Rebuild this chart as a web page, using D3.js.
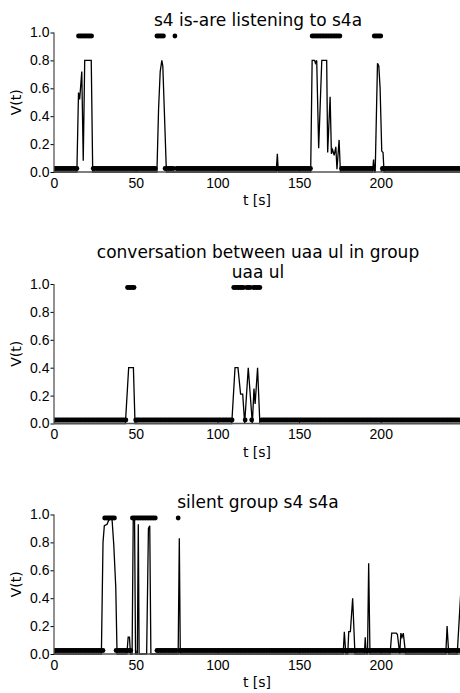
<!DOCTYPE html>
<meta charset="utf-8">
<style>
    body {
        margin: 0;
        background: #fff;
        font-family: "DejaVu Sans", sans-serif;
    }

    .tick text {
        font-size: 14px;
        fill: #000;
    }

    .title {
        font-size: 17px;
        text-anchor: middle;
    }

    .label {
        font-size: 14px;
        text-anchor: middle;
    }
</style>

<body>
    <script src="https://d3js.org/d3.v7.min.js"></script>
    <script>

        // panel titles (one entry per line)
        var titles = [
            ["s4 is-are listening to s4a"],
            ["conversation between uaa ul in group", "uaa ul"],
            ["silent group s4 s4a"]
        ];

        var xTicks = [0, 50, 100, 150, 200];
        var yTicks = [0.0, 0.2, 0.4, 0.6, 0.8, 1.0];
        var tMax = 248.5;

        // V(t) curves, [t, v] points
        var listenLine = [[0, 0], [14, 0], [15, 0.57], [15.7, 0.52], [17, 0.72], [17.9, 0.08], [18.8, 0.8], [22.8, 0.8], [23.7, 0],
            [63, 0], [64, 0.45], [65, 0.72], [66, 0.8], [66.6, 0.76], [67.5, 0.45], [68.8, 0],
            [136, 0], [136.7, 0.13], [137.3, 0],
            [157.1, 0], [158, 0.8], [159.5, 0.8], [160, 0.78], [160.8, 0.8], [162, 0.17], [163.9, 0.8], [166.9, 0.8], [167.5, 0.14],
            [169, 0.54], [169.8, 0.13], [170.5, 0.16], [171.5, 0.12], [172.5, 0.18], [173.2, 0.02], [174.5, 0.23], [175.3, 0],
            [195, 0], [195.6, 0.09], [196.2, 0], [196.6, 0], [198, 0.78], [198.8, 0.76], [199.6, 0.6], [200.6, 0.15], [201.4, 0.14], [202, 0],
            [tMax, 0]];

        var talkLine = [[0, 0], [43.7, 0], [45.7, 0.4], [48.6, 0.4], [49.6, 0],
            [108.8, 0], [110.8, 0.4], [112.6, 0.4], [114.2, 0.21], [115.5, 0.21], [116.7, 0], [118.9, 0.4], [121.4, 0],
            [122.4, 0.25], [123.1, 0.14], [124.6, 0.4], [126, 0],
            [tMax, 0]];

        var silentLine = [[0, 0], [29, 0], [30, 0.8], [30.8, 0.92], [32.5, 0.93], [33.5, 0.96], [35.5, 0.97], [36.6, 0.78], [37.8, 0.48], [38.6, 0],
            [44.6, 0], [45.4, 0.12], [46.2, 0.12], [46.8, 0],
            [47.8, 0], [48.5, 0.97], [49.3, 0.97], [49.9, 0], [51, 0], [51.6, 0.93], [52.1, 0],
            [56.7, 0], [57.8, 0.9], [58.6, 0.92], [59.3, 0],
            [76, 0], [76.7, 0.83], [77.3, 0],
            [177, 0], [177.7, 0.16], [178.6, 0], [179.8, 0], [180.4, 0.16], [181.4, 0.16], [182.8, 0.4], [184.2, 0],
            [190, 0], [190.5, 0.12], [191.1, 0], [191.9, 0], [192.6, 0.65], [193.4, 0],
            [205.7, 0], [206.7, 0.15], [209.5, 0.15], [210.2, 0.14], [211.6, 0], [212.3, 0.15], [213, 0.12], [213.8, 0.15], [215.2, 0],
            [239.8, 0], [240.6, 0.2], [241.6, 0],
            [246.8, 0], [249.5, 0.55]];

        // seconds where the binary marker is "on" (drawn high), every other second drawn low
        var listenOn = [[15, 23], [63, 67], [74, 74], [158, 175], [196, 200]];
        var talkOn = [[45, 49], [110, 116], [118, 120], [122, 126]];
        var silentOn = [[31, 37], [48, 62], [76, 76]];
        var markHigh = 0.975, markLow = 0.025;

        var lines = [listenLine, talkLine, silentLine];
        var onRuns = [listenOn, talkOn, silentOn];

        // plot box of each panel (pixel)
        var panelTop = [32.5, 284, 514.5],
            panelH = 139.5,
            left = 54, right = 460;

        var svg = d3.select("body").append("svg")
            .attr("width", 460)
            .attr("height", 693);

        var x = d3.scaleLinear().domain([0, tMax]).range([left, right]);
        var seconds = d3.range(0, Math.floor(tMax) + 1);

        svg.append("defs").append("clipPath")
            .attr("id", "clip")
            .append("rect")
            .attr("x", left).attr("y", 0)
            .attr("width", right - left).attr("height", 693);

        lines.forEach(function (data, p) {
            var y = d3.scaleLinear().domain([0, 1]).range([panelTop[p] + panelH, panelTop[p]]);
            var g = svg.append("g");

            var marks = seconds.map(function (t) {
                var on = onRuns[p].some(function (r) { return t >= r[0] && t <= r[1]; });
                return [t, on ? markHigh : markLow];
            });

            var plot = g.append("g").attr("clip-path", "url(#clip)");

            plot.append("path")
                .datum(data)
                .attr("fill", "none")
                .attr("stroke", "#000")
                .attr("stroke-width", 1.3)
                .attr("stroke-linejoin", "miter")
                .attr("d", d3.line()
                    .x(function (d) { return x(d[0]); })
                    .y(function (d) { return y(d[1]); }));

            plot.selectAll(null)
                .data(marks)
                .enter()
                .append("circle")
                .attr("cx", function (d) { return x(d[0]); })
                .attr("cy", function (d) { return y(d[1]); })
                .attr("r", 2.4)
                .attr("fill", "#000");

            // y axis: ticks outward
            var ya = g.append("g")
                .attr("transform", "translate(" + left + ",0)")
                .call(d3.axisLeft(y).tickValues(yTicks).tickFormat(d3.format(".1f")).tickSize(3.5).tickPadding(1));
            ya.select(".domain").remove();
            ya.selectAll(".tick line").attr("stroke", "#000");

            // x axis: ticks inward
            var xa = g.append("g")
                .attr("transform", "translate(0," + y(0) + ")")
                .call(d3.axisBottom(x).tickValues(xTicks).tickFormat(d3.format("d")).tickSize(-3.5).tickPadding(6));
            xa.select(".domain").remove();
            xa.selectAll(".tick line").attr("stroke", "#000");

            // spines
            g.append("line")
                .attr("x1", left).attr("x2", left)
                .attr("y1", y(0)).attr("y2", y(1))
                .attr("stroke", "#555").attr("stroke-width", 1.3);
            g.append("line")
                .attr("x1", left).attr("x2", right)
                .attr("y1", y(0)).attr("y2", y(0))
                .attr("stroke", "#555").attr("stroke-width", 1.3);

            var tl = titles[p];
            tl.forEach(function (s, i) {
                g.append("text")
                    .attr("class", "title")
                    .attr("x", (left + right) / 2 + 1)
                    .attr("y", y(1) - 6.5 - (tl.length - 1 - i) * 20)
                    .text(s);
            });

            g.append("text")
                .attr("class", "label")
                .attr("x", (left + right) / 2)
                .attr("y", y(0) + 33)
                .text("t [s]");

            g.append("text")
                .attr("class", "label")
                .attr("transform", "translate(21," + (y(0) + y(1)) / 2 + ") rotate(-90)")
                .text("V(t)");
        });

    </script>
</body>
